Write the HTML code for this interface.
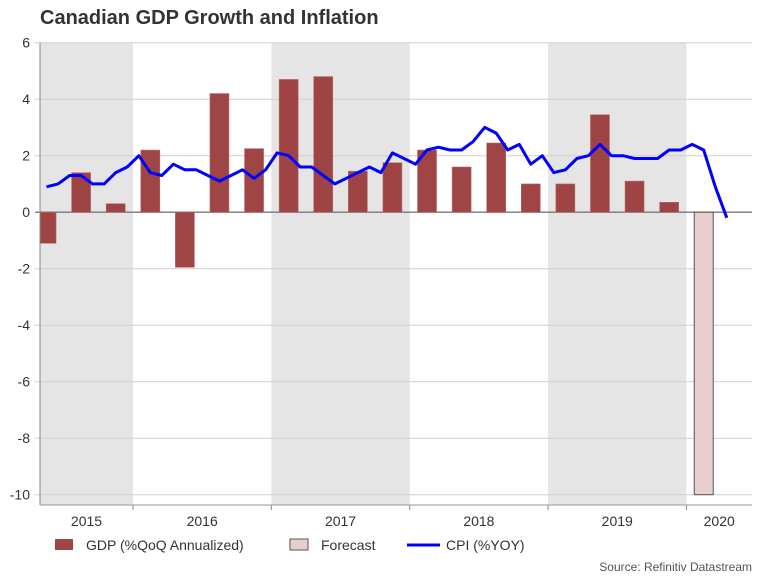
<!DOCTYPE html>
<html><head><meta charset="utf-8"><style>
body{margin:0;background:#fff;font-family:"Liberation Sans",sans-serif}
svg text{font-family:"Liberation Sans",sans-serif}
</style></head><body>
<svg id="c" width="768" height="576" xmlns="http://www.w3.org/2000/svg">
<text x="40" y="24" font-size="20" font-weight="bold" fill="#333">Canadian GDP Growth and Inflation</text>
<g id="bands"></g><g id="grid"></g><g id="bars"></g><g id="line"></g><g id="axes"></g>
<g>
<rect x="55" y="539" width="18" height="11" fill="#a04545"/>
<text x="86" y="550" font-size="14" fill="#333">GDP (%QoQ Annualized)</text>
<rect x="290" y="539" width="18" height="11" fill="#e8cece" stroke="#555"/>
<text x="321" y="550" font-size="14" fill="#333">Forecast</text>
<line x1="407" y1="545" x2="440" y2="545" stroke="#0000ff" stroke-width="3"/>
<text x="446" y="550" font-size="14" fill="#333">CPI (%YOY)</text>
</g>
<text x="752" y="571" font-size="12" fill="#555" text-anchor="end">Source: Refinitiv Datastream</text>
</svg>
<script>
const years=[2015,2016,2017,2018,2019,2020];
const yTicks=[6,4,2,0,-2,-4,-6,-8,-10];
// quarters as month index of quarter start (Jan2016 = 0)
const gdpQuarters=[-9,-6,-3,0,3,6,9,12,15,18,21,24,27,30,33,36,39,42,45];
const gdpValues=[-1.1,1.4,0.3,2.2,-1.95,4.2,2.25,4.7,4.8,1.45,1.75,2.2,1.6,2.45,1.0,1.0,3.45,1.1,0.35];
const forecastQuarters=[48];
const forecastValues=[-10];
const cpiStartMonth=-8; // May 2015
const cpiValues=[0.9,1.0,1.3,1.3,1.0,1.0,1.4,1.6,2.0,1.4,1.3,1.7,1.5,1.5,1.3,1.1,1.3,1.5,1.2,1.5,2.1,2.0,1.6,1.6,1.3,1.0,1.2,1.4,1.6,1.4,2.1,1.9,1.7,2.2,2.3,2.2,2.2,2.5,3.0,2.8,2.2,2.4,1.7,2.0,1.4,1.5,1.9,2.0,2.4,2.0,2.0,1.9,1.9,1.9,2.2,2.2,2.4,2.2,0.9,-0.2];
const X0=40,X1=752,Y0=42.7,Y1=505;
const MW=11.53;
const xm=m=>133+m*MW;
const y=v=>212.2-v*28.25;
const NS="http://www.w3.org/2000/svg";
function mk(t,a,p){const e=document.createElementNS(NS,t);for(const k in a)e.setAttribute(k,a[k]);p.appendChild(e);return e;}
const bands=document.getElementById('bands'),grid=document.getElementById('grid'),bars=document.getElementById('bars'),line=document.getElementById('line'),axes=document.getElementById('axes');
years.forEach((yr,i)=>{
  const a=Math.max(X0,xm((yr-2016)*12)),b=Math.min(X1,xm((yr-2015)*12));
  if(i%2==0){const r=mk('rect',{x:a,y:Y0,width:b-a,height:Y1-Y0,fill:'#e5e5e5'},bands);
  
  }
  const t=mk('text',{x:(a+b)/2,y:526,'font-size':14,fill:'#333','text-anchor':'middle'},axes);t.textContent=yr;
  
  
  if(i>0){const tk=mk('line',{x1:a,y1:Y1,x2:a,y2:Y1+5,stroke:'#888'},axes);
  
  }
});
yTicks.forEach(v=>{
  const g=mk('line',{x1:X0-5,y1:y(v),x2:X1,y2:y(v),stroke:v==0?'#777':'#d0d0d0','stroke-width':v==0?1.3:1},grid);
  
  
  const t=mk('text',{x:30,y:y(v)+5,'font-size':14,fill:'#333','text-anchor':'end'},axes);t.textContent=v;
  
  
});
mk('line',{x1:X0,y1:Y0,x2:X0,y2:Y1,stroke:'#888'},axes);
mk('line',{x1:X0,y1:Y1,x2:X1,y2:Y1,stroke:'#999'},axes);
gdpQuarters.forEach((q,i)=>{
  const cx=xm(q+1.5),v=gdpValues[i];
  const r=mk('rect',{x:Math.max(X0,cx-9.5),y:Math.min(y(v),y(0)),width:cx+9.5-Math.max(X0,cx-9.5),height:Math.abs(y(v)-y(0)),fill:'#9a3b3b','fill-opacity':0.95,stroke:'#b86a6a','stroke-width':0.6},bars);
  
  
});
forecastQuarters.forEach((q,i)=>{
  const cx=xm(q+1.5),v=forecastValues[i];
  const r=mk('rect',{x:cx-9.5,y:Math.min(y(v),y(0)),width:19,height:Math.abs(y(v)-y(0)),fill:'#e8cece',stroke:'#555','stroke-width':1},bars);
  
  
});
const pts=cpiValues.map((v,i)=>xm(cpiStartMonth+i+0.5).toFixed(1)+','+y(v).toFixed(1)).join(' ');
const pl=mk('polyline',{points:pts,fill:'none',stroke:'#0000ff','stroke-width':3,'stroke-linejoin':'round'},line);


</script>
</body></html>
